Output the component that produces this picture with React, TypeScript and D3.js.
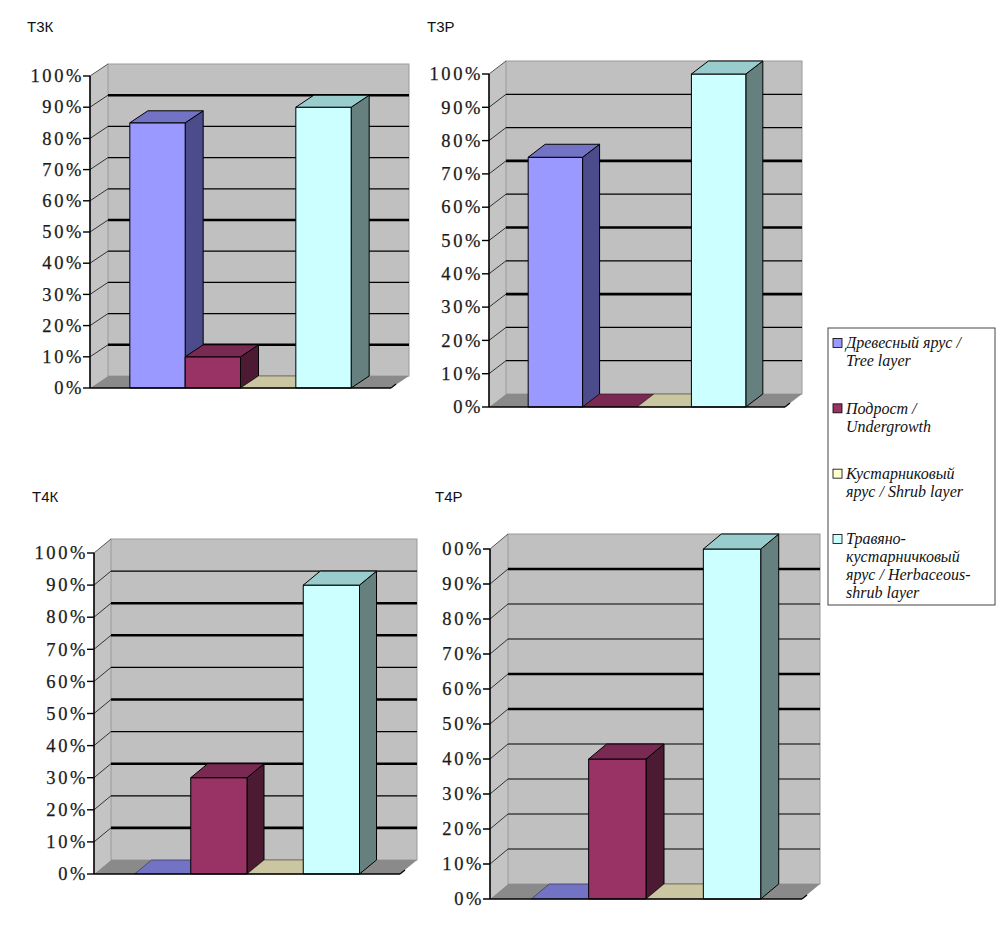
import React, { useEffect, useRef } from 'react';
import * as d3 from 'd3';

// plots (sample plots) and vegetation layers
const plotNames = ['Т3К', 'Т3Р', 'Т4К', 'Т4Р'];
const layerKeys = ['tree', 'undergrowth', 'shrub', 'herb'];
const legendLines = [
  ['Древесный ярус /', 'Tree layer'],
  ['Подрост /', 'Undergrowth'],
  ['Кустарниковый', 'ярус / Shrub layer'],
  ['Травяно-', 'кустарничковый', 'ярус / Herbaceous-', 'shrub layer'],
];

// share of each layer, %
const t3kValues = [85, 10, 0, 90];
const t3pValues = [75, 0, 0, 100];
const t4kValues = [0, 30, 0, 90];
const t4pValues = [0, 40, 0, 100];
const plotValues = [t3kValues, t3pValues, t4kValues, t4pValues];

const tickValues = [0, 10, 20, 30, 40, 50, 60, 70, 80, 90, 100];
const tickLabels = tickValues.map((v) => `${v}%`);

// faces of each 3d column: front, top, side
const frontColors = ['#9999ff', '#993366', '#ffffcc', '#ccffff'];
const topColors = ['#7373c6', '#7a2952', '#cbc6a2', '#99cccc'];
const sideColors = ['#4c4c8c', '#4d1a33', '#80806a', '#668080'];

const serif = 'Liberation Serif, DejaVu Serif, Times New Roman, serif';

// frame of each panel on the page
const panels = [
  { x0: 90, x1: 391, yTop: 76, yBase: 388, dx: 18, dy: 12, tx: 27, ty: 32, heavy: [90, 50, 10], cut: false },
  { x0: 489, x1: 785, yTop: 74, yBase: 407, dx: 17, dy: 13, tx: 427, ty: 32, heavy: [70, 50, 30], cut: false },
  { x0: 94, x1: 400, yTop: 553, yBase: 874, dx: 17, dy: 14, tx: 32, ty: 502, heavy: [80, 70, 50, 30, 10], cut: false },
  { x0: 490, x1: 802, yTop: 549, yBase: 899, dx: 18, dy: 15, tx: 435, ty: 502, heavy: [90, 60, 50], cut: true },
];

const App: React.FC = () => {
  const svgRef = useRef<SVGSVGElement>(null);

  useEffect(() => {
    if (!svgRef.current) return;
    const svg = d3.select(svgRef.current);
    svg.selectAll('*').remove();
    const defs = svg.append('defs');

    panels.forEach((p, pi) => {
      const g = svg.append('g');
      const y = d3.scaleLinear().domain([0, 100]).range([p.yBase, p.yTop]);
      const x = d3.scaleBand<string>().domain(layerKeys).range([p.x0, p.x1]).paddingInner(0).paddingOuter(0.72);
      const { dx, dy } = p;
      const pt = (a: number, b: number) => `${a},${b}`;

      g.append('text')
        .attr('x', p.tx).attr('y', p.ty)
        .attr('font-family', 'Arial, Liberation Sans, sans-serif')
        .attr('font-size', 15)
        .attr('fill', '#111')
        .text(plotNames[pi]);

      // walls
      g.append('polygon')
        .attr('points', [pt(p.x0, p.yBase), pt(p.x0, p.yTop), pt(p.x0 + dx, p.yTop - dy), pt(p.x0 + dx, p.yBase - dy)].join(' '))
        .attr('fill', '#c4c4c4');
      g.append('rect')
        .attr('x', p.x0 + dx).attr('y', p.yTop - dy)
        .attr('width', p.x1 - p.x0).attr('height', p.yBase - p.yTop)
        .attr('fill', '#c0c0c0').attr('stroke', '#9a9a9a').attr('stroke-width', 1);
      g.append('polygon')
        .attr('points', [pt(p.x0, p.yBase), pt(p.x0 + dx, p.yBase - dy), pt(p.x1 + dx, p.yBase - dy), pt(p.x1, p.yBase)].join(' '))
        .attr('fill', '#8a8a8a');

      // gridlines on back and side wall
      tickValues.filter((v) => v > 0 && v < 100).forEach((v) => {
        const yy = y(v);
        g.append('line')
          .attr('x1', p.x0 + dx).attr('x2', p.x1 + dx)
          .attr('y1', yy - dy).attr('y2', yy - dy)
          .attr('stroke', '#000')
          .attr('stroke-width', p.heavy.includes(v) ? 2.6 : 1.2);
        g.append('line')
          .attr('x1', p.x0).attr('y1', yy)
          .attr('x2', p.x0 + dx).attr('y2', yy - dy)
          .attr('stroke', '#333').attr('stroke-width', 1);
      });
      g.append('line')
        .attr('x1', p.x0).attr('y1', p.yTop)
        .attr('x2', p.x0 + dx).attr('y2', p.yTop - dy)
        .attr('stroke', '#555').attr('stroke-width', 1);

      // columns
      const vals = plotValues[pi];
      layerKeys.forEach((k, i) => {
        const bx = x(k)!;
        const w = x.bandwidth();
        const top = y(vals[i]);
        const col = g.append('g').attr('stroke', '#000').attr('stroke-width', 1).attr('stroke-linejoin', 'round');
        if (vals[i] > 0) {
          col.append('polygon')
            .attr('points', [pt(bx + w, p.yBase), pt(bx + w, top), pt(bx + w + dx, top - dy), pt(bx + w + dx, p.yBase - dy)].join(' '))
            .attr('fill', sideColors[i]);
          col.append('rect')
            .attr('x', bx).attr('y', top).attr('width', w).attr('height', p.yBase - top)
            .attr('fill', frontColors[i]);
        }
        col.append('polygon')
          .attr('points', [pt(bx, top), pt(bx + dx, top - dy), pt(bx + w + dx, top - dy), pt(bx + w, top)].join(' '))
          .attr('fill', topColors[i])
          .attr('stroke-width', vals[i] > 0 ? 1 : 0.4);
      });

      // axis
      g.append('line')
        .attr('x1', p.x0).attr('x2', p.x0).attr('y1', p.yTop).attr('y2', p.yBase)
        .attr('stroke', '#000').attr('stroke-width', 1.6);
      g.append('line')
        .attr('x1', p.x0).attr('x2', p.x1).attr('y1', p.yBase).attr('y2', p.yBase)
        .attr('stroke', '#000').attr('stroke-width', 1.6);
      g.append('line')
        .attr('x1', p.x1).attr('y1', p.yBase)
        .attr('x2', p.x1 + 5).attr('y2', p.yBase - 4)
        .attr('stroke', '#000').attr('stroke-width', 1.2);

      const labels = g.append('g');
      tickValues.forEach((v, ti) => {
        const yy = y(v);
        labels.append('line')
          .attr('x1', p.x0 - 7).attr('x2', p.x0).attr('y1', yy).attr('y2', yy)
          .attr('stroke', '#000').attr('stroke-width', 1.4);
        labels.append('text')
          .attr('class', `tl-${v}`)
          .attr('x', p.x0 - 6).attr('y', yy)
          .attr('dy', '0.34em')
          .attr('text-anchor', 'end')
          .attr('font-family', serif)
          .attr('font-size', 18.5)
          .attr('letter-spacing', 2.6)
          .attr('fill', '#1a1a1a')
          .attr('stroke', '#1a1a1a')
          .attr('stroke-width', 0.25)
          .text(tickLabels[ti]);
      });
      // the scanned panel loses the leading "1" of its top label
      if (p.cut) {
        const ref = labels.select<SVGTextElement>('.tl-90').node();
        const left = ref ? ref.getBBox().x : p.x0 - 50;
        const id = `clip-${pi}`;
        defs.append('clipPath').attr('id', id)
          .append('rect').attr('x', left - 1).attr('y', p.yTop - 30).attr('width', 200).attr('height', p.yBase - p.yTop + 60);
        labels.attr('clip-path', `url(#${id})`);
      }
    });

    // legend
    const lg = svg.append('g');
    lg.append('rect')
      .attr('x', 828).attr('y', 328).attr('width', 167).attr('height', 277)
      .attr('fill', '#fff').attr('stroke', '#444').attr('stroke-width', 1);
    const itemY = d3.scaleLinear().domain([0, 3]).range([343, 539]);
    legendLines.forEach((lines, i) => {
      const cy = itemY(i);
      lg.append('rect')
        .attr('x', 833).attr('y', cy - 4.5).attr('width', 9).attr('height', 9)
        .attr('fill', frontColors[i]).attr('stroke', '#000').attr('stroke-width', 0.8);
      lines.forEach((s, li) => {
        lg.append('text')
          .attr('x', 846).attr('y', cy + li * 18)
          .attr('dy', '0.33em')
          .attr('font-family', serif)
          .attr('font-style', 'italic')
          .attr('font-size', 16)
          .attr('fill', '#111')
          .text(s);
      });
    });
  }, []);

  return (
    <svg
      ref={svgRef}
      width={1004}
      height={935}
      style={{ position: 'absolute', left: 0, top: 0, background: '#fff' }}
    />
  );
};

export default App;
